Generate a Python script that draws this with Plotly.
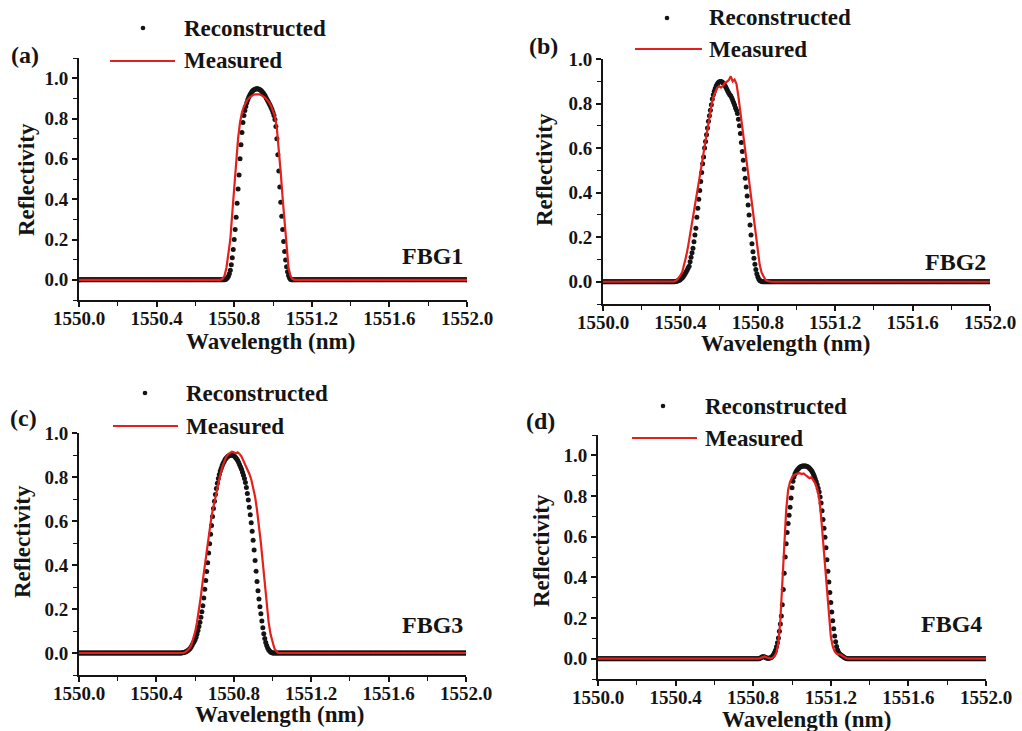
import numpy as np
import plotly.graph_objects as go

W, H = 1022, 731
WL_MIN, WL_MAX = 1550.0, 1552.0
REC_STEP = 0.005   # nm, spacing of reconstructed points
MEAS_STEP = 0.01   # nm, spacing of measured samples

# Reflectivity inside each peak window (outside the window the spectrum is flat at 0)
# ---- FBG1 ----
a_rec_start = 1550.750
a_rec = [0.000, 0.002, 0.005, 0.010, 0.018, 0.030, 0.048, 0.075, 0.110, 0.150,
         0.200, 0.250, 0.310, 0.380, 0.450, 0.520, 0.600, 0.670, 0.730, 0.780,
         0.815, 0.840, 0.860, 0.878, 0.893, 0.905, 0.915, 0.924, 0.931, 0.937,
         0.941, 0.944, 0.946, 0.947, 0.947, 0.946, 0.944, 0.941, 0.937, 0.932,
         0.926, 0.919, 0.911, 0.902, 0.893, 0.884, 0.875, 0.866, 0.855, 0.843,
         0.830, 0.815, 0.795, 0.760, 0.700, 0.620, 0.540, 0.460, 0.385, 0.315,
         0.250, 0.190, 0.140, 0.098, 0.065, 0.040, 0.022, 0.010, 0.003, 0.000]
a_meas_start = 1550.73
a_meas = [0.000, 0.005, 0.020, 0.060, 0.120, 0.200, 0.330, 0.470, 0.600, 0.700,
          0.780, 0.830, 0.860, 0.880, 0.895, 0.905, 0.912, 0.918, 0.920, 0.921,
          0.920, 0.916, 0.910, 0.902, 0.892, 0.880, 0.862, 0.840, 0.810, 0.750,
          0.650, 0.530, 0.400, 0.270, 0.140, 0.060, 0.020, 0.005, 0.000]

# ---- FBG2 ----
b_rec_start = 1550.370
b_rec = [0.000, 0.001, 0.002, 0.003, 0.005, 0.007, 0.010, 0.014, 0.018, 0.024,
         0.030, 0.037, 0.045, 0.053, 0.062, 0.070, 0.090, 0.110, 0.130, 0.150,
         0.180, 0.210, 0.240, 0.290, 0.330, 0.370, 0.410, 0.450, 0.490, 0.530,
         0.560, 0.600, 0.630, 0.660, 0.690, 0.720, 0.745, 0.770, 0.795, 0.820,
         0.840, 0.855, 0.868, 0.879, 0.887, 0.893, 0.897, 0.899, 0.899, 0.897,
         0.893, 0.888, 0.881, 0.873, 0.864, 0.855, 0.847, 0.840, 0.835, 0.826,
         0.816, 0.805, 0.793, 0.780, 0.770, 0.755, 0.730, 0.700, 0.665, 0.625,
         0.585, 0.545, 0.505, 0.465, 0.425, 0.385, 0.345, 0.300, 0.255, 0.210,
         0.170, 0.135, 0.105, 0.078, 0.055, 0.036, 0.022, 0.012, 0.006, 0.003,
         0.001, 0.000]
b_meas_start = 1550.36
b_meas = [0.000, 0.002, 0.006, 0.015, 0.028, 0.045, 0.075, 0.115, 0.160, 0.210,
          0.260, 0.315, 0.370, 0.420, 0.470, 0.525, 0.580, 0.635, 0.690, 0.745,
          0.790, 0.830, 0.855, 0.870, 0.878, 0.872, 0.880, 0.893, 0.898, 0.905,
          0.922, 0.900, 0.908, 0.888, 0.830, 0.760, 0.690, 0.625, 0.560, 0.490,
          0.420, 0.340, 0.260, 0.190, 0.125, 0.075, 0.040, 0.020, 0.008, 0.003,
          0.000]

# ---- FBG3 ----
c_rec_start = 1550.530
c_rec = [0.000, 0.001, 0.002, 0.003, 0.005, 0.007, 0.010, 0.013, 0.017, 0.022,
         0.028, 0.036, 0.045, 0.052, 0.060, 0.072, 0.086, 0.102, 0.120, 0.140,
         0.163, 0.188, 0.215, 0.250, 0.290, 0.330, 0.370, 0.410, 0.455, 0.497,
         0.540, 0.580, 0.620, 0.657, 0.690, 0.720, 0.748, 0.772, 0.793, 0.811,
         0.827, 0.840, 0.852, 0.862, 0.871, 0.879, 0.885, 0.890, 0.894, 0.897,
         0.899, 0.900, 0.900, 0.899, 0.897, 0.893, 0.888, 0.882, 0.875, 0.866,
         0.856, 0.846, 0.835, 0.822, 0.808, 0.793, 0.775, 0.752, 0.725, 0.695,
         0.662, 0.628, 0.592, 0.553, 0.512, 0.468, 0.420, 0.372, 0.325, 0.283,
         0.245, 0.210, 0.178, 0.145, 0.115, 0.088, 0.066, 0.048, 0.034, 0.023,
         0.015, 0.009, 0.005, 0.002, 0.000]
c_meas_start = 1550.54
c_meas = [0.000, 0.004, 0.010, 0.020, 0.035, 0.060, 0.095, 0.140, 0.195, 0.260,
          0.330, 0.400, 0.465, 0.530, 0.590, 0.645, 0.690, 0.735, 0.775, 0.810,
          0.845, 0.870, 0.890, 0.903, 0.910, 0.915, 0.912, 0.908, 0.912, 0.905,
          0.893, 0.875, 0.855, 0.835, 0.815, 0.790, 0.755, 0.710, 0.650, 0.580,
          0.500, 0.410, 0.310, 0.220, 0.140, 0.085, 0.045, 0.020, 0.008, 0.000]

# ---- FBG4 ----
d_rec_start = 1550.830
d_rec = [0.000, 0.002, 0.005, 0.008, 0.010, 0.010, 0.008, 0.005, 0.003, 0.002,
         0.002, 0.003, 0.005, 0.008, 0.013, 0.020, 0.030, 0.042, 0.058, 0.078,
         0.102, 0.135, 0.170, 0.210, 0.265, 0.340, 0.420, 0.500, 0.565, 0.620,
         0.665, 0.705, 0.745, 0.790, 0.840, 0.872, 0.893, 0.908, 0.918, 0.926,
         0.932, 0.937, 0.941, 0.944, 0.946, 0.947, 0.948, 0.948, 0.947, 0.946,
         0.944, 0.941, 0.937, 0.932, 0.926, 0.918, 0.908, 0.897, 0.884, 0.870,
         0.855, 0.838, 0.820, 0.795, 0.765, 0.728, 0.685, 0.642, 0.597, 0.545,
         0.487, 0.430, 0.377, 0.325, 0.276, 0.230, 0.187, 0.147, 0.112, 0.083,
         0.060, 0.043, 0.032, 0.024, 0.019, 0.016, 0.013, 0.010, 0.006, 0.003,
         0.001, 0.000]
d_meas_start = 1550.83
d_meas = [0.000, 0.004, 0.009, 0.011, 0.006, 0.002, 0.001, 0.004, 0.012, 0.030,
          0.080, 0.190, 0.360, 0.580, 0.730, 0.830, 0.870, 0.890, 0.902, 0.908,
          0.910, 0.912, 0.908, 0.911, 0.903, 0.897, 0.888, 0.893, 0.880, 0.862,
          0.835, 0.790, 0.700, 0.580, 0.440, 0.310, 0.195, 0.110, 0.060, 0.035,
          0.024, 0.022, 0.020, 0.014, 0.006, 0.002, 0.000]

panel_tags = ["(a)", "(b)", "(c)", "(d)"]
grating_names = ["FBG1", "FBG2", "FBG3", "FBG4"]
legend_names = ["Reconstructed", "Measured"]
x_tick_vals = [1550.0, 1550.4, 1550.8, 1551.2, 1551.6, 1552.0]
x_tick_text = ["1550.0", "1550.4", "1550.8", "1551.2", "1551.6", "1552.0"]
x_title = "Wavelength (nm)"
y_title = "Reflectivity"


def spectrum(start, vals, step):
    """Full 1550-1552 nm spectrum: listed peak values, flat zero elsewhere."""
    wl = np.round(np.arange(WL_MIN, WL_MAX + step / 2, step), 3)
    r = np.zeros_like(wl)
    i0 = int(round((start - WL_MIN) / step))
    r[i0:i0 + len(vals)] = vals
    return wl, r


def px(x):
    return x / W


def py(y):
    return 1 - y / H


SERIF = "Liberation Serif"
INK = "#141414"
RED = "#e3201c"

# layout geometry for each panel (pixel boxes of the plotting areas)
panels = [
    dict(rec=(a_rec_start, a_rec), meas=(a_meas_start, a_meas),
         box=(79, 467, 58, 300), yr=[-0.1, 1.1],
         tag=(25, 55), dot=(143, 28), line=(110, 175, 61), leg_x=182, leg_y=(28, 60),
         name=(465, 256), xt=(270, 341), yt=(27, 180)),
    dict(rec=(b_rec_start, b_rec), meas=(b_meas_start, b_meas),
         box=(603, 990, 59, 304), yr=[-0.1, 1.0],
         tag=(543, 46), dot=(667, 18), line=(635, 702, 49), leg_x=707, leg_y=(17, 49),
         name=(988, 262), xt=(785, 343), yt=(545, 170)),
    dict(rec=(c_rec_start, c_rec), meas=(c_meas_start, c_meas),
         box=(79, 466, 433, 675), yr=[-0.1, 1.0],
         tag=(23, 418), dot=(145, 393), line=(113, 178, 426), leg_x=184, leg_y=(393, 426),
         name=(465, 625), xt=(279, 714), yt=(22, 542)),
    dict(rec=(d_rec_start, d_rec), meas=(d_meas_start, d_meas),
         box=(598, 986, 435, 679), yr=[-0.1, 1.1],
         tag=(540, 421), dot=(663, 406), line=(632, 697, 438), leg_x=703, leg_y=(406, 439),
         name=(984, 624), xt=(806, 719), yt=(541, 551)),
]

fig = go.Figure()
annotations = []
shapes = []
layout_axes = {}

for k, p in enumerate(panels):
    sfx = "" if k == 0 else str(k + 1)
    xa, ya = "x" + sfx, "y" + sfx

    wl_r, r_r = spectrum(*p["rec"], REC_STEP)
    wl_m, r_m = spectrum(*p["meas"], MEAS_STEP)

    fig.add_trace(go.Scatter(
        x=wl_r, y=r_r, mode="markers", name=legend_names[0],
        marker=dict(size=5, color=INK, line=dict(width=0)),
        xaxis=xa, yaxis=ya, showlegend=False))
    fig.add_trace(go.Scatter(
        x=wl_m, y=r_m, mode="lines", name=legend_names[1],
        line=dict(color=RED, width=2.2),
        xaxis=xa, yaxis=ya, showlegend=False))

    x0, x1, y0, y1 = p["box"]
    common = dict(showgrid=False, zeroline=False, showline=True, linecolor=INK,
                  linewidth=2, ticks="outside", ticklen=5, tickwidth=1.5,
                  tickcolor=INK, automargin=False,
                  tickfont=dict(family=SERIF, size=19, color=INK, weight="bold"))
    layout_axes["xaxis" + sfx] = dict(
        common, domain=[px(x0), px(x1)], anchor=ya, range=[WL_MIN, WL_MAX],
        tickvals=x_tick_vals, ticktext=x_tick_text, ticklabelstandoff=-5,
        minor=dict(dtick=0.2, tick0=1550.0, ticks="outside", ticklen=4,
                   tickwidth=1.2, tickcolor=INK))
    layout_axes["yaxis" + sfx] = dict(
        common, domain=[py(y1), py(y0)], anchor=xa, range=p["yr"],
        tick0=0, dtick=0.2, tickformat=".1f",
        minor=dict(dtick=0.1, tick0=0, ticks="outside", ticklen=4,
                   tickwidth=1.2, tickcolor=INK))

    font_txt = dict(family=SERIF, color=INK)
    annotations += [
        dict(text="<b>%s</b>" % panel_tags[k], x=px(p["tag"][0]), y=py(p["tag"][1]),
             xref="paper", yref="paper", xanchor="center", yanchor="middle",
             showarrow=False, font=dict(font_txt, size=24)),
        dict(text="<b>%s</b>" % legend_names[0], x=px(p["leg_x"]), y=py(p["leg_y"][0]),
             xref="paper", yref="paper", xanchor="left", yanchor="middle",
             showarrow=False, font=dict(font_txt, size=23)),
        dict(text="<b>%s</b>" % legend_names[1], x=px(p["leg_x"]), y=py(p["leg_y"][1]),
             xref="paper", yref="paper", xanchor="left", yanchor="middle",
             showarrow=False, font=dict(font_txt, size=23)),
        dict(text="<b>%s</b>" % grating_names[k], x=px(p["name"][0]), y=py(p["name"][1]),
             xref="paper", yref="paper", xanchor="right", yanchor="middle",
             showarrow=False, font=dict(font_txt, size=24)),
        dict(text="<b>%s</b>" % x_title, x=px(p["xt"][0]), y=py(p["xt"][1]),
             xref="paper", yref="paper", xanchor="center", yanchor="middle",
             showarrow=False, font=dict(font_txt, size=23)),
        dict(text="<b>%s</b>" % y_title, x=px(p["yt"][0]), y=py(p["yt"][1]),
             xref="paper", yref="paper", xanchor="center", yanchor="middle",
             textangle=-90, showarrow=False, font=dict(font_txt, size=23)),
    ]

    # legend glyphs
    dx, dy = p["dot"]
    shapes.append(dict(type="circle", xref="paper", yref="paper",
                       x0=px(dx - 2.3), x1=px(dx + 2.3), y0=py(dy + 2.3), y1=py(dy - 2.3),
                       fillcolor=INK, line=dict(width=0)))
    lx0, lx1, ly = p["line"]
    shapes.append(dict(type="line", xref="paper", yref="paper",
                       x0=px(lx0), x1=px(lx1), y0=py(ly), y1=py(ly),
                       line=dict(color=RED, width=2)))

fig.update_layout(
    width=W, height=H, autosize=False,
    margin=dict(l=0, r=0, t=0, b=0, pad=0),
    paper_bgcolor="white", plot_bgcolor="white",
    annotations=annotations, shapes=shapes,
    **layout_axes,
)

fig.write_html("out.html")
